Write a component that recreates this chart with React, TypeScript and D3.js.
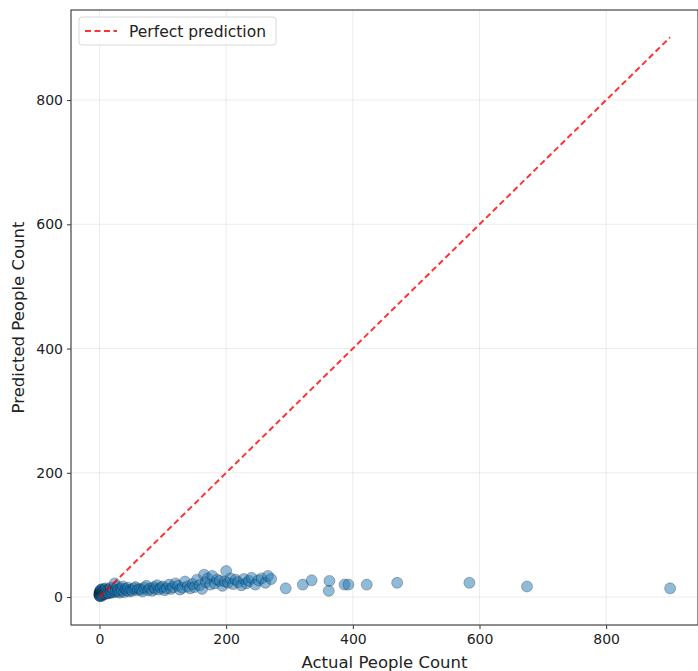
import { useEffect, useRef } from "react";
import * as d3 from "d3";

// actual vs predicted counts
const actual = [
  0, 0, 0, 0, 0, 0, 1, 1, 1, 1, 1, 2, 2, 2, 2, 3, 3, 3, 3, 4, 4, 4, 5, 5, 5, 6, 6, 6, 7, 7, 8, 8, 9, 9, 10, 10, 11, 12, 12, 13,
  14, 15, 16, 17, 18, 19, 20, 21, 22, 24, 25, 26, 28, 29, 30, 32, 34, 35, 37, 39, 41, 43, 45, 47, 50, 52, 55, 57, 60, 63,
  66, 68, 71, 74, 77, 80, 83, 86, 88, 91, 94, 97, 100, 103, 106, 110, 113, 116, 120, 124, 127, 131, 135, 139, 143, 147, 150, 154, 158, 162,
  165, 168, 171, 175, 178, 182, 186, 190, 194, 198, 200, 203, 207, 211, 215, 219, 224, 228, 232, 236, 240, 246, 251, 256, 262, 266, 271,
  294, 321, 335, 363, 362, 387, 393, 422, 470, 584, 675, 901,
];
const predicted = [
  2, 4, 6, 8, 3, 5, 3, 7, 10, 5, 1, 4, 9, 6, 12, 5, 8, 3, 11, 6, 2, 9, 7, 4, 13, 8, 5, 10, 6, 9, 7, 12, 5, 10, 8, 14, 9, 6, 11, 7,
  10, 6, 12, 8, 15, 9, 7, 13, 10, 22, 8, 11, 16, 9, 12, 7, 14, 10, 17, 8, 13, 11, 15, 9, 12, 10, 14, 16, 11, 13,
  12, 9, 15, 18, 11, 14, 10, 16, 13, 19, 12, 15, 17, 11, 14, 20, 13, 16, 22, 18, 12, 15, 25, 17, 14, 21, 16, 28, 19, 13,
  36, 24, 30, 20, 34, 22, 28, 26, 18, 25, 42, 23, 30, 21, 28, 24, 19, 29, 22, 26, 31, 20, 27, 30, 23, 34, 29,
  14, 20, 27, 26, 10, 20, 20, 20, 23, 23, 17, 14,
];
const xTicks = [0, 200, 400, 600, 800];
const yTicks = [0, 200, 400, 600, 800];

function App() {
  const ref = useRef<SVGSVGElement>(null);

  useEffect(() => {
    const width = 698;
    const height = 671;
    const left = 71, right = 698, top = 10, bottom = 625;
    const svg = d3.select(ref.current).attr("width", width).attr("height", height);
    svg.selectAll("*").remove();

    const x = d3.scaleLinear().domain([-45, 945]).range([left, right]);
    const y = d3.scaleLinear().domain([-45, 945]).range([bottom, top]);
    const font = "DejaVu Sans, sans-serif";

    // grid
    const grid = svg.append("g");
    grid.selectAll(".gx").data(xTicks).join("line")
      .attr("x1", d => x(d)).attr("x2", d => x(d))
      .attr("y1", top).attr("y2", bottom)
      .attr("stroke", "#b0b0b0").attr("stroke-opacity", 0.3).attr("stroke-width", 0.8);
    grid.selectAll(".gy").data(yTicks).join("line")
      .attr("y1", d => y(d)).attr("y2", d => y(d))
      .attr("x1", left).attr("x2", right)
      .attr("stroke", "#b0b0b0").attr("stroke-opacity", 0.3).attr("stroke-width", 0.8);

    // points
    const pts = actual.map((a, i) => ({ a, p: predicted[i] }));
    svg.append("g").selectAll("circle").data(pts).join("circle")
      .attr("cx", d => x(d.a)).attr("cy", d => y(d.p)).attr("r", 5.5)
      .attr("fill", "#1f77b4").attr("fill-opacity", 0.5)
      .attr("stroke", "#000").attr("stroke-opacity", 0.5).attr("stroke-width", 0.5);

    // perfect prediction line
    const mx = d3.max(actual) as number;
    svg.append("line")
      .attr("x1", x(0)).attr("y1", y(0)).attr("x2", x(mx)).attr("y2", y(mx))
      .attr("stroke", "#ff0000").attr("stroke-opacity", 0.8).attr("stroke-width", 2)
      .attr("stroke-dasharray", "6,3.5");

    // axes
    const xa = svg.append("g").attr("transform", `translate(0,${bottom})`)
      .call(d3.axisBottom(x).tickValues(xTicks).tickSize(4).tickPadding(5));
    const ya = svg.append("g").attr("transform", `translate(${left},0)`)
      .call(d3.axisLeft(y).tickValues(yTicks).tickSize(4).tickPadding(4));
    [xa, ya].forEach(g => {
      g.select(".domain").remove();
      g.selectAll("line").attr("stroke", "#333");
      g.selectAll("text").attr("font-family", font).attr("font-size", 14).attr("fill", "#222");
    });

    // spines
    svg.append("rect").attr("x", left).attr("y", top)
      .attr("width", right - left).attr("height", bottom - top)
      .attr("fill", "none").attr("stroke", "#444").attr("stroke-width", 1.2);

    // labels
    svg.append("text").attr("x", (left + right) / 2).attr("y", 668)
      .attr("text-anchor", "middle").attr("font-family", font).attr("font-size", 16.5).attr("fill", "#222")
      .text("Actual People Count");
    svg.append("text").attr("transform", `translate(24,${(top + bottom) / 2}) rotate(-90)`)
      .attr("text-anchor", "middle").attr("font-family", font).attr("font-size", 16.5).attr("fill", "#222")
      .text("Predicted People Count");

    // legend
    const lg = svg.append("g");
    lg.append("rect").attr("x", 79).attr("y", 17).attr("width", 197).attr("height", 28).attr("rx", 3)
      .attr("fill", "#fff").attr("fill-opacity", 0.8).attr("stroke", "#d9d9d9");
    lg.append("line").attr("x1", 85).attr("x2", 117).attr("y1", 31).attr("y2", 31)
      .attr("stroke", "#ff0000").attr("stroke-opacity", 0.8).attr("stroke-width", 2)
      .attr("stroke-dasharray", "6,3.5");
    lg.append("text").attr("x", 129).attr("y", 36.5).attr("font-family", font).attr("font-size", 15.5)
      .attr("fill", "#222").text("Perfect prediction");
  }, []);

  return (
    <div style={{ position: "absolute", left: 0, top: 0 }}>
      <svg ref={ref} style={{ display: "block" }} />
    </div>
  );
}

export default App;
